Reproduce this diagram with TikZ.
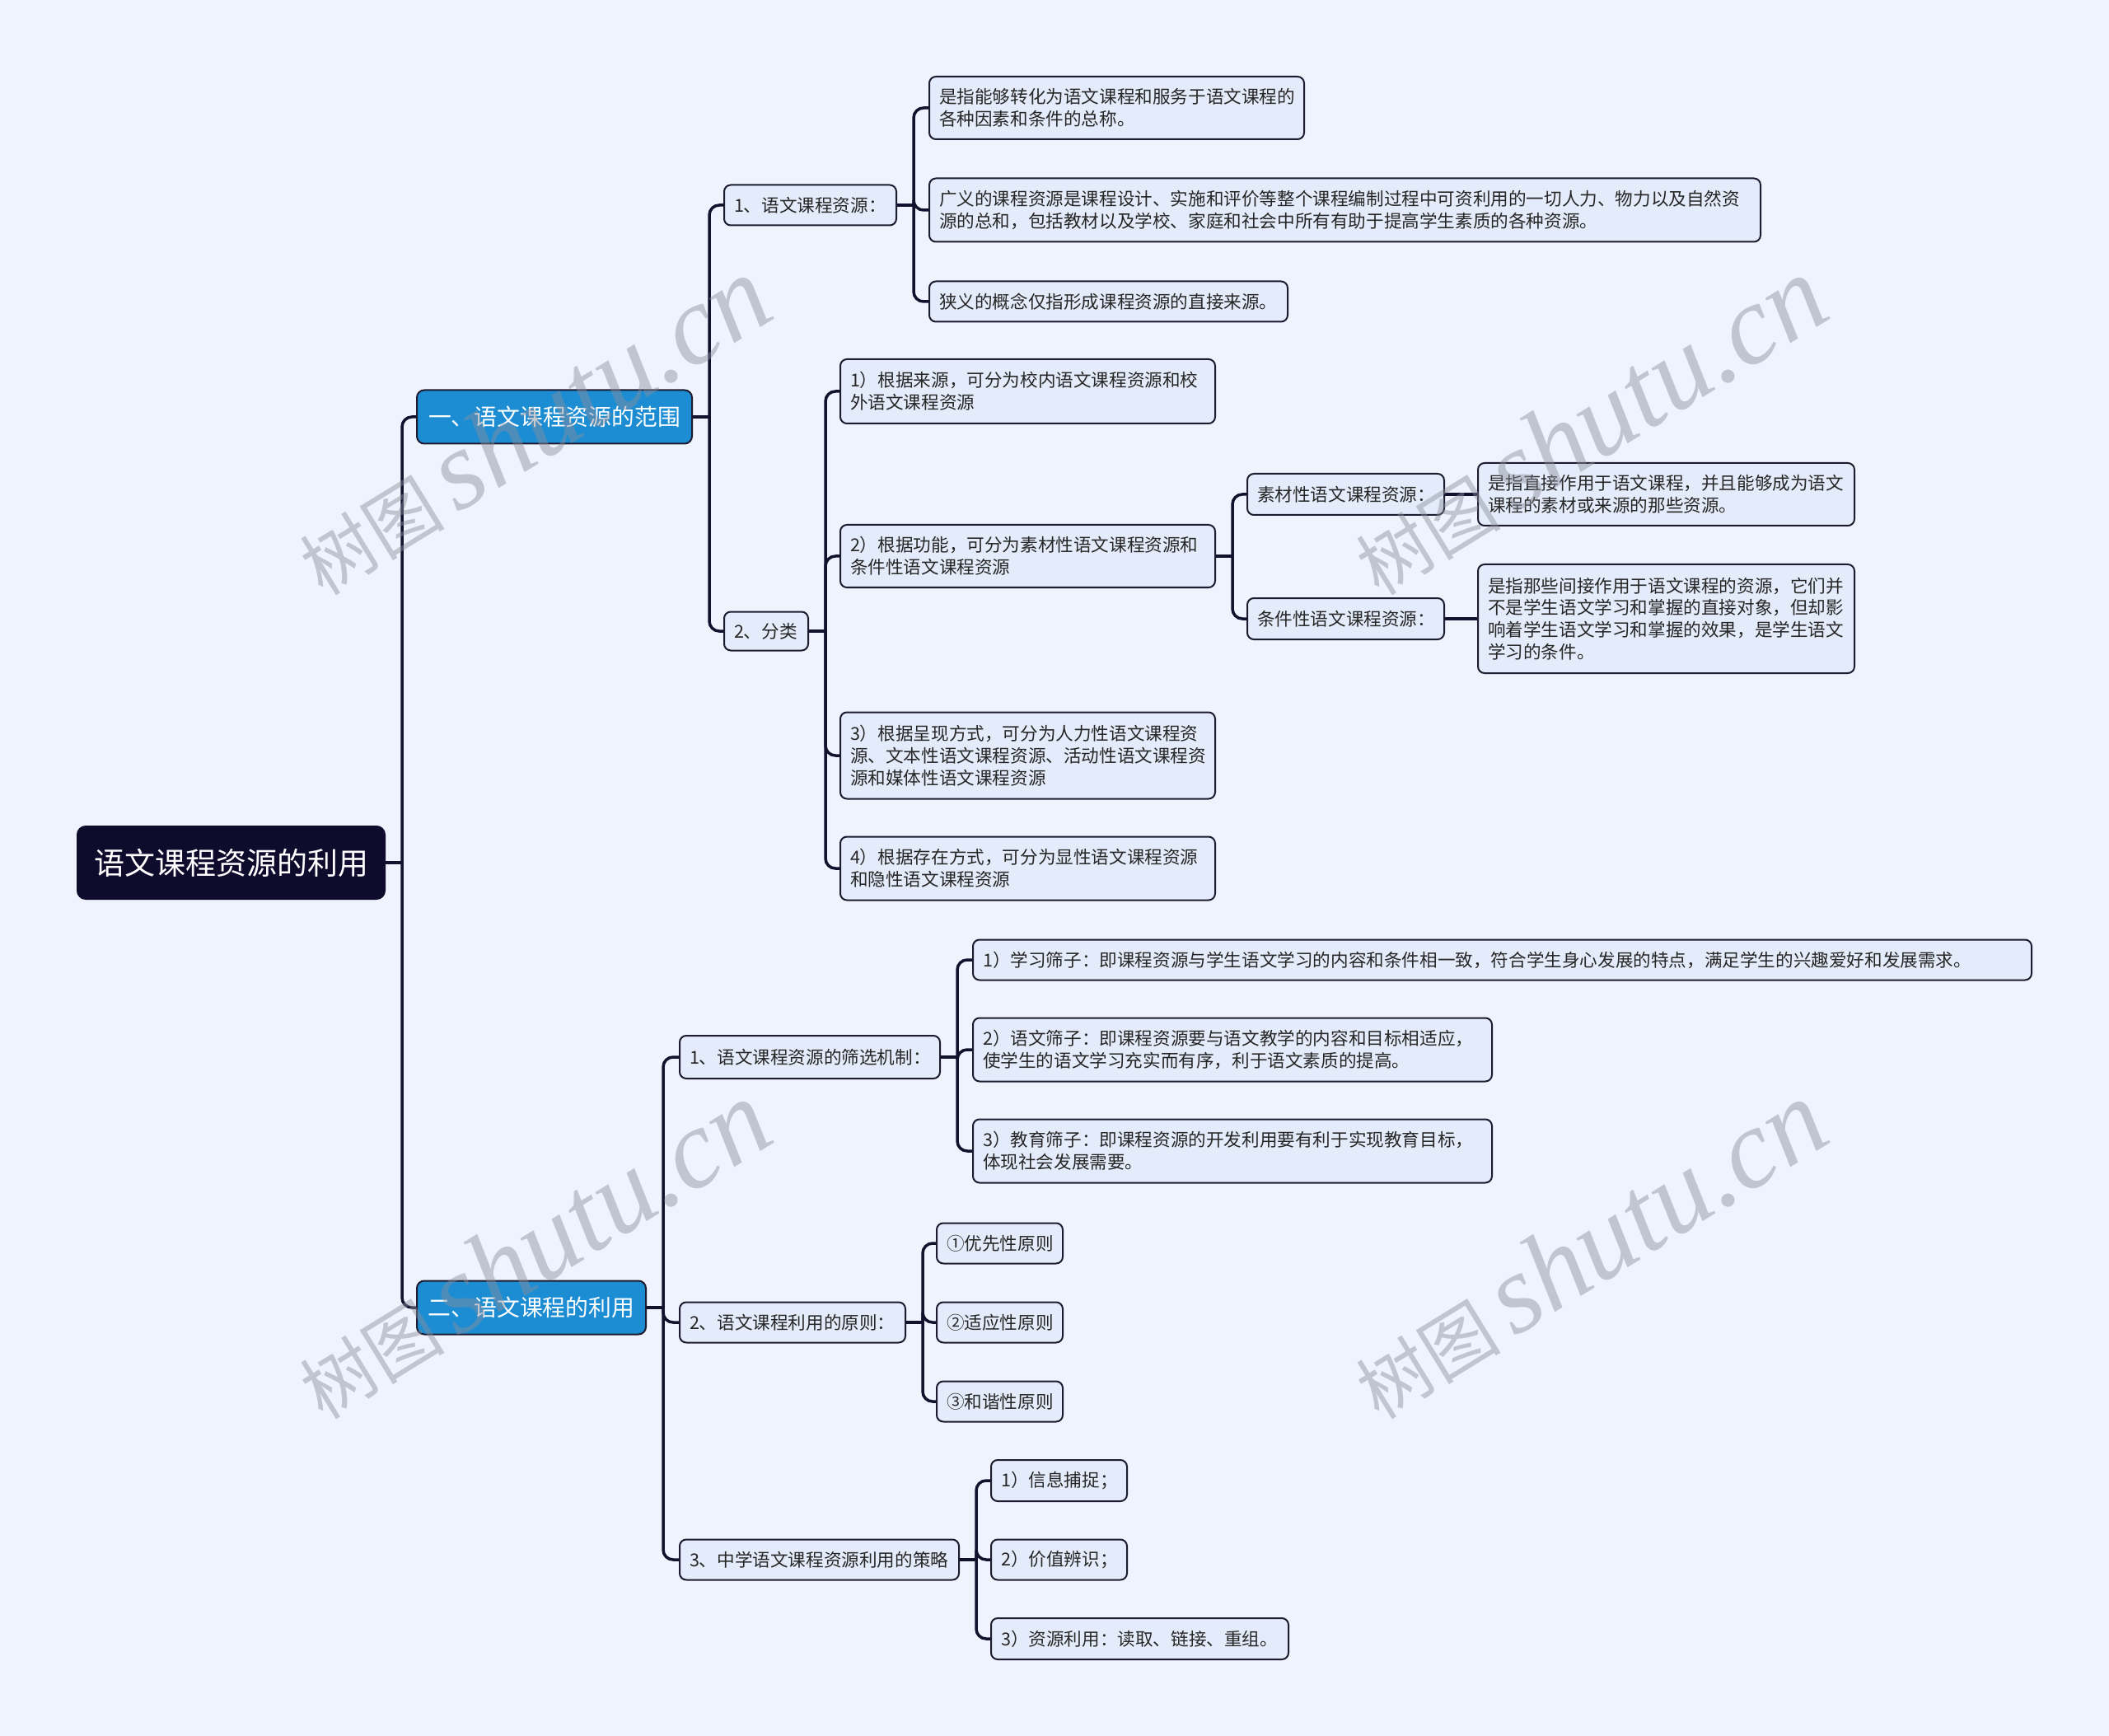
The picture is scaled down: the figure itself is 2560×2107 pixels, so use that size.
\documentclass[tikz,border=0pt]{standalone}
\usepackage{fontspec}
\setmainfont{Noto Sans CJK SC}
\newfontfamily\wmserif{Liberation Serif}
\definecolor{bgc}{RGB}{238,243,253}
\definecolor{leafc}{RGB}{228,236,251}
\definecolor{bordc}{RGB}{28,27,48}
\definecolor{connc}{RGB}{18,17,46}
\definecolor{lonec}{RGB}{28,141,211}
\definecolor{rootc}{RGB}{14,11,45}
\definecolor{wmc}{RGB}{140,142,155}
\newcommand\fsLeaf{\fontsize{10.8pt}{13.4pt}\selectfont}
\newcommand\fsOne{\fontsize{13.9pt}{16pt}\selectfont}
\newcommand\fsRoot{\fontsize{18.5pt}{21pt}\selectfont}
\tikzset{
  leaf/.style={draw=bordc, fill=leafc, rounded corners=4pt, line width=1pt,
    font=\fsLeaf, align=left, inner xsep=6pt, inner ysep=0pt, anchor=west, text=black!85},
  lone/.style={draw=bordc, fill=lonec, rounded corners=4.5pt, line width=1pt,
    font=\fsOne, text=white, inner sep=0pt, anchor=west, align=center},
  rootbox/.style={draw=rootc, fill=rootc, rounded corners=5pt, line width=1pt,
    font=\fsRoot, text=white, inner sep=0pt, anchor=west, align=center},
  conn/.style={draw=connc, line width=1.75pt, rounded corners=6pt},
  wm/.style={text=wmc, opacity=0.45, rotate=31.6, inner sep=0pt}
}
\begin{document}
\begin{tikzpicture}[x=0.5pt,y=-0.5pt]
\fill[bgc] (0,0) rectangle (2560,2107);
\useasboundingbox (0,0) rectangle (2560,2107);

% root and level 1
\node[rootbox, minimum width=186.5pt, minimum height=44pt] (root) at (93,1047) {语文课程资源的利用};
\node[lone, minimum width=167pt, minimum height=32.5pt] (L1a) at (505,506) {一、语文课程资源的范围};
\node[lone, minimum width=139pt, minimum height=32.5pt] (L1b) at (505,1587) {二、语文课程的利用};

% level 2 under L1a
\node[leaf, text width=92.5pt, minimum height=24.5pt] (K1) at (878,249) {1、语文课程资源：};
\node[leaf, text width=39pt, minimum height=23.5pt] (K2) at (878,766) {2、分类};

\node[leaf, text width=215.5pt, minimum height=38pt] (A1) at (1127,131) {是指能够转化为语文课程和服务于语文课程的\\各种因素和条件的总称。};
\node[leaf, text width=492.5pt, minimum height=38.5pt] (A2) at (1127,255) {广义的课程资源是课程设计、实施和评价等整个课程编制过程中可资利用的一切人力、物力以及自然资\\源的总和，包括教材以及学校、家庭和社会中所有有助于提高学生素质的各种资源。};
\node[leaf, text width=205.5pt, minimum height=24.5pt] (A3) at (1127,366) {狭义的概念仅指形成课程资源的直接来源。};

\node[leaf, text width=215.5pt, minimum height=39pt] (B1) at (1019,475) {1）根据来源，可分为校内语文课程资源和校\\外语文课程资源};
\node[leaf, text width=215.5pt, minimum height=38pt] (B2) at (1019,675) {2）根据功能，可分为素材性语文课程资源和\\条件性语文课程资源};
\node[leaf, text width=215.5pt, minimum height=52.5pt] (B3) at (1019,917) {3）根据呈现方式，可分为人力性语文课程资\\源、文本性语文课程资源、活动性语文课程资\\源和媒体性语文课程资源};
\node[leaf, text width=215.5pt, minimum height=38.5pt] (B4) at (1019,1054) {4）根据存在方式，可分为显性语文课程资源\\和隐性语文课程资源};

\node[leaf, text width=107.5pt, minimum height=25pt] (C1) at (1513,600) {素材性语文课程资源：};
\node[leaf, text width=107.5pt, minimum height=25pt] (C2) at (1513,751) {条件性语文课程资源：};
\node[leaf, text width=216.5pt, minimum height=38pt] (D1) at (1793,600) {是指直接作用于语文课程，并且能够成为语文\\课程的素材或来源的那些资源。};
\node[leaf, text width=216.5pt, minimum height=66pt] (D2) at (1793,751) {是指那些间接作用于语文课程的资源，它们并\\不是学生语文学习和掌握的直接对象，但却影\\响着学生语文学习和掌握的效果，是学生语文\\学习的条件。};

% level 2 under L1b
\node[leaf, text width=146pt, minimum height=26pt] (E1) at (824,1283) {1、语文课程资源的筛选机制：};
\node[leaf, text width=125pt, minimum height=24.5pt] (E2) at (824,1605) {2、语文课程利用的原则：};
\node[leaf, text width=157.5pt, minimum height=24.5pt] (E3) at (824,1893) {3、中学语文课程资源利用的策略};

\node[leaf, text width=630.5pt, minimum height=24.5pt] (F1) at (1180,1165) {1）学习筛子：即课程资源与学生语文学习的内容和条件相一致，符合学生身心发展的特点，满足学生的兴趣爱好和发展需求。};
\node[leaf, text width=303pt, minimum height=38.5pt] (F2) at (1180,1274) {2）语文筛子：即课程资源要与语文教学的内容和目标相适应，\\使学生的语文学习充实而有序，利于语文素质的提高。};
\node[leaf, text width=303pt, minimum height=38.5pt] (F3) at (1180,1397) {3）教育筛子：即课程资源的开发利用要有利于实现教育目标，\\体现社会发展需要。};

\node[leaf, text width=64.5pt, minimum height=24.5pt] (G1) at (1136,1509) {①优先性原则};
\node[leaf, text width=64.5pt, minimum height=24.5pt] (G2) at (1136,1605) {②适应性原则};
\node[leaf, text width=64.5pt, minimum height=24.5pt] (G3) at (1136,1701) {③和谐性原则};

\node[leaf, text width=70.5pt, minimum height=25pt] (H1) at (1202,1797) {1）信息捕捉；};
\node[leaf, text width=70.5pt, minimum height=24.5pt] (H2) at (1202,1893) {2）价值辨识；};
\node[leaf, text width=168.5pt, minimum height=25pt] (H3) at (1202,1989) {3）资源利用：读取、链接、重组。};

% connectors
\foreach \p/\cs in {root/{L1a,L1b},L1a/{K1,K2},K1/{A1,A2,A3},K2/{B1,B2,B3,B4},B2/{C1,C2},L1b/{E1,E2,E3},E1/{F1,F2,F3},E2/{G1,G2,G3},E3/{H1,H2,H3}}{
  \draw[conn] (\p.east) -- ([xshift=10pt]\p.east);
  \foreach \c in \cs {\draw[conn] ([xshift=10pt]\p.east) |- (\c.west);}
}
\draw[conn] (C1.east) -- (D1.west);
\draw[conn] (C2.east) -- (D2.west);

% watermarks
\foreach \wx/\wy [count=\i] in {646/517,1928/517,646/1517,1928/1517}{
  \node[wm] (wm\i) at (\wx,\wy) {\fontsize{44pt}{44pt}\selectfont 树图\hspace{8pt}{\wmserif\itshape\fontsize{68pt}{68pt}\selectfont shutu.cn}};
}
\end{tikzpicture}
\end{document}
